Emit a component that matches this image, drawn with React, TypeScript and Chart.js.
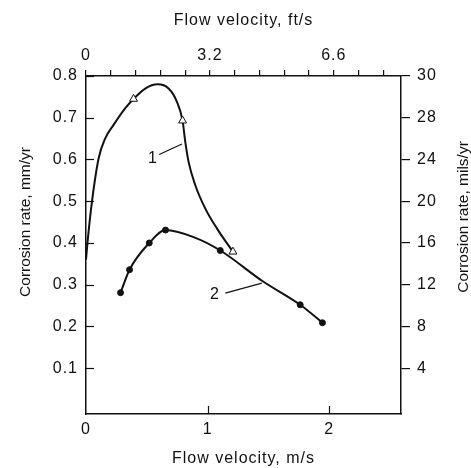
import React, { useEffect, useRef } from "react";
import { Chart, registerables } from "chart.js";

Chart.register(...registerables);

// ---- Data ----
// Curve 1 (triangles): smooth line through read points
const curve1X = [0.0, 0.013, 0.049, 0.104, 0.159, 0.227, 0.323, 0.391, 0.487, 0.589, 0.679, 0.748, 0.794, 0.816, 0.843, 0.898, 0.98, 1.076, 1.208];
const curve1Y = [0.36, 0.403, 0.499, 0.603, 0.651, 0.683, 0.723, 0.745, 0.77, 0.78, 0.77, 0.738, 0.693, 0.643, 0.595, 0.539, 0.483, 0.435, 0.379];
const triX = [0.391, 0.794, 1.208];
const triY = [0.745, 0.693, 0.379];

// Curve 2 (filled dots)
const curve2LineX = [0.284, 0.358, 0.52, 0.654, 0.884, 1.104, 1.45, 1.761, 1.944];
const curve2LineY = [0.281, 0.336, 0.4, 0.431, 0.414, 0.382, 0.309, 0.252, 0.209];
const dotX = [0.284, 0.358, 0.52, 0.654, 1.104, 1.761, 1.944];
const dotY = [0.281, 0.336, 0.4, 0.431, 0.382, 0.252, 0.209];

// Leader lines and curve labels
const leader1X = [0.602, 0.789];
const leader1Y = [0.612, 0.637];
const leader2X = [1.145, 1.446];
const leader2Y = [0.28, 0.304];
const curveLabels = ["1", "2"];
const curveLabelX = [0.546, 1.056];
const curveLabelY = [0.603, 0.2775];

// Axes
const leftTickValues = [0.1, 0.2, 0.3, 0.4, 0.5, 0.6, 0.7, 0.8];
const leftTickLabels = ["0.1", "0.2", "0.3", "0.4", "0.5", "0.6", "0.7", "0.8"];
const rightTickLabels = ["4", "8", "12", "16", "20", "24", "28", "30"];
const bottomTickValues = [0, 1, 2];
const bottomTickLabels = ["0", "1", "2"];
const bottomInnerTicks = [1, 2];
const topTickValues = [0, 1, 2, 3, 4, 5, 6, 7, 8, 9, 10, 11, 12];
const topTickLabels = ["0", "", "", "", "", "3.2", "", "", "", "", "6.6", "", ""];

const xTitle = "Flow velocity, m/s";
const xTopTitle = "Flow velocity, ft/s";
const yTitle = "Corrosion rate, mm/yr";
const yRightTitle = "Corrosion rate, mils/yr";

const INK = "#111111";
const FONT = '"Liberation Sans", Arial, Helvetica, sans-serif';

const pts = (xs: number[], ys: number[]) => xs.map((x, i) => ({ x, y: ys[i] }));

const annotPlugin = {
  id: "annot",
  beforeDraw(chart: any) {
    (chart.ctx as any).letterSpacing = "1px";
  },
  afterDraw(chart: any) {
    const { ctx, chartArea, scales } = chart;
    const xs = scales.x;
    const ys = scales.y;
    ctx.save();
    ctx.strokeStyle = INK;
    ctx.lineWidth = 1.2;
    // inward ticks on the left axis
    leftTickValues.forEach((v) => {
      const py = Math.round(ys.getPixelForValue(v)) + 0.5;
      ctx.beginPath();
      ctx.moveTo(chartArea.left, py);
      ctx.lineTo(chartArea.left + 8, py);
      ctx.stroke();
    });
    // inward ticks on the bottom axis
    bottomInnerTicks.forEach((v) => {
      const px = Math.round(xs.getPixelForValue(v)) + 0.5;
      ctx.beginPath();
      ctx.moveTo(px, chartArea.bottom);
      ctx.lineTo(px, chartArea.bottom - 8);
      ctx.stroke();
    });
    // curve labels
    ctx.fillStyle = INK;
    ctx.font = `16px ${FONT}`;
    ctx.textAlign = "center";
    ctx.textBaseline = "middle";
    ctx.letterSpacing = "0px";
    curveLabels.forEach((t, i) => {
      ctx.fillText(t, xs.getPixelForValue(curveLabelX[i]), ys.getPixelForValue(curveLabelY[i]));
    });
    // vertical axis titles
    ctx.font = `15.5px ${FONT}`;
    const cy = (chartArea.top + chartArea.bottom) / 2;
    ctx.save();
    ctx.translate(26, cy - 23);
    ctx.rotate(-Math.PI / 2);
    ctx.fillText(yTitle, 0, 0);
    ctx.restore();
    ctx.save();
    ctx.translate(chartArea.right + 62.5, cy - 28);
    ctx.rotate(-Math.PI / 2);
    ctx.fillText(yRightTitle, 0, 0);
    ctx.restore();
    ctx.restore();
  },
};

export default function App() {
  const ref = useRef<HTMLCanvasElement>(null);
  useEffect(() => {
    document.body.style.margin = "0";
    Chart.defaults.font.family = FONT;
    Chart.defaults.color = INK;
    const canvas = ref.current!;
    const chart = new Chart(canvas, {
      type: "scatter",
      data: {
        datasets: [
          {
            data: pts(triX, triY),
            showLine: false,
            pointStyle: "triangle",
            pointRadius: 4.6,
            pointBackgroundColor: "#ffffff",
            pointBorderColor: INK,
            pointBorderWidth: 1,
            order: 0,
          },
          {
            data: pts(dotX, dotY),
            showLine: false,
            pointStyle: "circle",
            pointRadius: 3,
            pointBackgroundColor: INK,
            pointBorderColor: INK,
            pointBorderWidth: 1,
            order: 0,
          },
          {
            data: pts(curve1X, curve1Y),
            showLine: true,
            pointRadius: 0,
            borderColor: INK,
            borderWidth: 2,
            cubicInterpolationMode: "monotone",
            order: 1,
          },
          {
            data: pts(curve2LineX, curve2LineY),
            showLine: true,
            pointRadius: 0,
            borderColor: INK,
            borderWidth: 2,
            cubicInterpolationMode: "monotone",
            order: 1,
          },
          {
            data: pts(leader1X, leader1Y),
            showLine: true,
            pointRadius: 0,
            borderColor: INK,
            borderWidth: 1.2,
            order: 1,
          },
          {
            data: pts(leader2X, leader2Y),
            showLine: true,
            pointRadius: 0,
            borderColor: INK,
            borderWidth: 1.2,
            order: 1,
          },
        ],
      },
      options: {
        animation: false,
        responsive: false,
        devicePixelRatio: 1,
        layout: { padding: 0 },
        plugins: {
          legend: { display: false },
          tooltip: { enabled: false },
        },
        scales: {
          x: {
            type: "linear",
            position: "bottom",
            min: 0,
            max: 2.59,
            afterBuildTicks: (s: any) => {
              s.ticks = bottomTickValues.map((value) => ({ value }));
            },
            afterFit: (s: any) => {
              s.height = 54;
            },
            ticks: {
              autoSkip: false,
              maxRotation: 0,
              padding: 6,
              font: { size: 16 },
              color: INK,
              callback: (_v: any, i: number) => bottomTickLabels[i],
            },
            grid: { display: false, drawOnChartArea: false, drawTicks: false },
            border: { display: true, color: INK, width: 1.5 },
            title: {
              display: true,
              text: xTitle,
              font: { size: 16 },
              color: INK,
              padding: { top: 0, bottom: 0 },
            },
          },
          xTop: {
            type: "linear",
            position: "top",
            display: true,
            min: 0,
            max: 12.71,
            afterBuildTicks: (s: any) => {
              s.ticks = topTickValues.map((value) => ({ value }));
            },
            afterFit: (s: any) => {
              s.height = 76;
            },
            ticks: {
              autoSkip: false,
              maxRotation: 0,
              padding: 5,
              font: { size: 16 },
              color: INK,
              callback: (_v: any, i: number) => topTickLabels[i],
            },
            grid: { display: true, drawOnChartArea: false, drawTicks: true, tickLength: 6, color: INK, lineWidth: 1.2 },
            border: { display: true, color: INK, width: 1.5 },
            title: {
              display: true,
              text: xTopTitle,
              font: { size: 16 },
              color: INK,
              padding: { top: 11, bottom: 0 },
            },
          },
          y: {
            type: "linear",
            position: "left",
            min: -0.0096,
            max: 0.8,
            afterBuildTicks: (s: any) => {
              s.ticks = leftTickValues.map((value) => ({ value }));
            },
            afterFit: (s: any) => {
              s.width = 86;
            },
            ticks: {
              autoSkip: false,
              padding: 8,
              font: { size: 16 },
              color: INK,
              callback: (_v: any, i: number) => leftTickLabels[i],
            },
            grid: { display: false, drawOnChartArea: false, drawTicks: false },
            border: { display: true, color: INK, width: 1.5 },
          },
          yRight: {
            type: "linear",
            position: "right",
            display: true,
            min: -0.0096,
            max: 0.8,
            afterBuildTicks: (s: any) => {
              s.ticks = leftTickValues.map((value) => ({ value }));
            },
            afterFit: (s: any) => {
              s.width = 70;
            },
            ticks: {
              autoSkip: false,
              padding: 7,
              font: { size: 16 },
              color: INK,
              callback: (_v: any, i: number) => rightTickLabels[i],
            },
            grid: { display: true, drawOnChartArea: false, drawTicks: true, tickLength: 9, color: INK, lineWidth: 1.2 },
            border: { display: true, color: INK, width: 1.5 },
          },
        },
      } as any,
      plugins: [annotPlugin],
    });
    return () => chart.destroy();
  }, []);
  return (
    <div style={{ width: 471, height: 468, position: "relative", background: "#fff" }}>
      <canvas ref={ref} width={471} height={468} style={{ display: "block" }} />
    </div>
  );
}
